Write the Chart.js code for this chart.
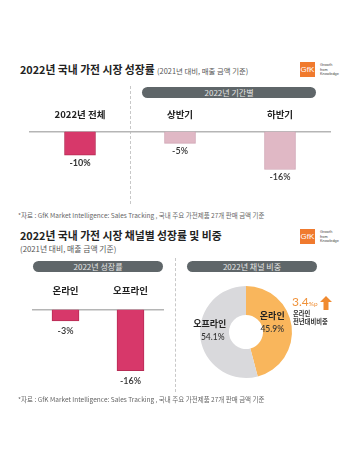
<!DOCTYPE html>
<html>
<head>
<meta charset="utf-8">
<script src="https://cdn.jsdelivr.net/npm/chart.js@4"></script>
<style>
  body { margin: 0; background: #fff; font-family: Lato, 'Noto Sans CJK KR', sans-serif; }
  #wrap { position: relative; width: 360px; height: 468px; overflow: hidden; }
  .abs { position: absolute; white-space: nowrap; }
  .title { font-family: 'Noto Sans CJK KR', sans-serif; font-weight: 700; font-size: 10.8px; color: #222; }
  .sub { font-family: 'Noto Sans CJK KR', sans-serif; font-size: 7.4px; color: #555; font-weight: 400; }
  .note { font-family: 'Noto Sans CJK KR', sans-serif; font-size: 6.5px; color: #666; }
  .pill { background: #5f6669; color: #e6e6e6; border-radius: 6px; font-family: 'Noto Sans CJK KR', sans-serif;
          font-size: 8px; text-align: center; height: 11px; line-height: 11px; }
  .logo { width: 15px; height: 15px; background: #f07a2e; color: #fff; font-family: 'Liberation Sans', sans-serif;
          font-size: 8px; line-height: 15px; text-align: center; }
  .logotxt { font-family: 'Liberation Sans', sans-serif; font-size: 3.8px; line-height: 4.6px; color: #444; }
  .vdash { border-left: 1px dashed #c8c8c8; width: 0; }
  canvas { position: absolute; }
</style>
</head>
<body>
<div id="wrap">
  <div class="abs title" style="left:20px; top:61px;">2022년 국내 가전 시장 성장률 <span class="sub">(2021년 대비, 매출 금액 기준)</span></div>
  <div class="abs logo" style="left:300px; top:62px;">GfK</div>
  <div class="abs logotxt" style="left:320px; top:63px;">Growth<br>from<br>Knowledge</div>
  <div class="abs vdash" style="left:130px; top:86px; height:118px;"></div>
  <div class="abs pill" style="left:142px; top:87px; width:174px;">2022년 기간별</div>
  <canvas id="periodChart" width="360" height="95" style="left:0; top:104px;"></canvas>
  <div class="abs note" style="left:18px; top:210px;">*자료 : GfK Market Intelligence: Sales Tracking , 국내 주요 가전제품 27개 판매 금액 기준</div>

  <div class="abs title" style="left:20px; top:227px;">2022년 국내 가전 시장 채널별 성장률 및 비중</div>
  <div class="abs sub" style="left:20px; top:243px; font-size:7.8px;">(2021년 대비, 매출 금액 기준)</div>
  <div class="abs logo" style="left:300px; top:229px;">GfK</div>
  <div class="abs logotxt" style="left:320px; top:230px;">Growth<br>from<br>Knowledge</div>
  <div class="abs vdash" style="left:175px; top:258px; height:134px;"></div>
  <div class="abs pill" style="left:33px; top:261px; width:130px;">2022년 성장률</div>
  <div class="abs pill" style="left:187px; top:261px; width:130px;">2022년 채널 비중</div>
  <canvas id="channelChart" width="172" height="122" style="left:0; top:278px;"></canvas>
  <canvas id="shareChart" width="152" height="110" style="left:170px; top:277px;"></canvas>
  <div class="abs" style="left:292px; top:295px; color:#f0923a; font-size:12px; line-height:14px;">3.4<span style="font-size:6.5px;">%p</span></div>
  <svg class="abs" style="left:320px; top:296px;" width="12" height="14" viewBox="0 0 12 14">
    <polygon points="6,0 12,6 8.5,6 8.5,14 3.5,14 3.5,6 0,6" fill="#f08a30"/>
  </svg>
  <div class="abs" style="left:293px; top:310px; font-family:'Noto Sans CJK KR'; font-weight:700; font-size:6.3px; line-height:8px; color:#333;">온라인<br>전년대비비중</div>
  <div class="abs note" style="left:18px; top:394px;">*자료 : GfK Market Intelligence: Sales Tracking , 국내 주요 가전제품 27개 판매 금액 기준</div>
</div>
<script>
const periodLabels = ['2022년 전체', '상반기', '하반기'];
const periodValues = [-10, -5, -16];
const channelLabels = ['온라인', '오프라인'];
const channelGrowth = [-3, -16];
const shareLabels = ['온라인', '오프라인'];
const shareValues = [45.9, 54.1];

const valueLabels = {
  id: 'valueLabels',
  afterDatasetsDraw(chart, args, opts) {
    const ctx = chart.ctx;
    const meta = chart.getDatasetMeta(0);
    ctx.save();
    ctx.textAlign = 'center';
    ctx.textBaseline = 'middle';
    meta.data.forEach((bar, i) => {
      ctx.font = (opts.weights ? opts.weights[i] : '600') + ' 9px Lato, sans-serif';
      ctx.fillStyle = '#333';
      ctx.fillText(chart.data.datasets[0].data[i] + '%', bar.x, bar.y + opts.gap);
    });
    ctx.restore();
  }
};

const barOptions = (pad, tickPad, labelGap, weights) => ({
  responsive: false,
  animation: false,
  layout: { padding: pad },
  plugins: { legend: { display: false }, tooltip: { enabled: false }, valueLabels: { gap: labelGap, weights: weights } },
  scales: {
    x: {
      position: 'top',
      grid: { display: false },
      border: { display: true, color: '#b5b5b5', width: 1.5 },
      ticks: { color: '#222', padding: tickPad, font: { family: "'Noto Sans CJK KR'", size: 9.5, weight: '700' } }
    },
    y: { display: false, min: -20, max: 0 }
  }
});

new Chart(document.getElementById('periodChart'), {
  type: 'bar',
  data: {
    labels: periodLabels,
    datasets: [{
      data: periodValues,
      backgroundColor: ['#d7386a', '#e0b8c5', '#e0b8c5'],
      borderColor: ['#b72c55', '#cfa3b3', '#cfa3b3'],
      borderWidth: 1,
      borderSkipped: 'start',
      barThickness: 31
    }]
  },
  options: barOptions({ left: 30, right: 30, top: 2, bottom: 20 }, 3, 8, ['700', '600', '600']),
  plugins: [valueLabels]
});

new Chart(document.getElementById('channelChart'), {
  type: 'bar',
  data: {
    labels: channelLabels,
    datasets: [{
      data: channelGrowth,
      backgroundColor: '#d7386a',
      borderColor: '#b72c55',
      borderWidth: 1,
      borderSkipped: 'start',
      barThickness: 27
    }]
  },
  options: barOptions({ left: 33, right: 9, top: 2, bottom: 14 }, 5, 10, ['600', '600']),
  plugins: [valueLabels]
});

const shareLabelPlugin = {
  id: 'shareLabels',
  afterDatasetsDraw(chart) {
    const ctx = chart.ctx;
    const meta = chart.getDatasetMeta(0);
    ctx.save();
    ctx.textAlign = 'center';
    ctx.textBaseline = 'middle';
    meta.data.forEach((arc, i) => {
      const p = arc.tooltipPosition();
      const x = p.x - 5, y = p.y - 6;
      ctx.fillStyle = '#222';
      ctx.font = "700 9px 'Noto Sans CJK KR'";
      ctx.fillText(shareLabels[i], x, y - 6);
      ctx.fillStyle = '#333';
      ctx.font = '500 8.5px Lato, sans-serif';
      ctx.fillText(shareValues[i] + '%', x + (i === 1 ? 3 : 0), y + 7);
    });
    ctx.restore();
  }
};

new Chart(document.getElementById('shareChart'), {
  type: 'doughnut',
  data: {
    labels: shareLabels,
    datasets: [{
      data: shareValues,
      backgroundColor: ['#f9b65c', '#d9d9dc'],
      borderWidth: 0
    }]
  },
  options: {
    responsive: false,
    animation: false,
    cutout: '37%',
    layout: { padding: { left: 30, right: 30, top: 9, bottom: 9 } },
    plugins: { legend: { display: false }, tooltip: { enabled: false } }
  },
  plugins: [shareLabelPlugin]
});
</script>
</body>
</html>
